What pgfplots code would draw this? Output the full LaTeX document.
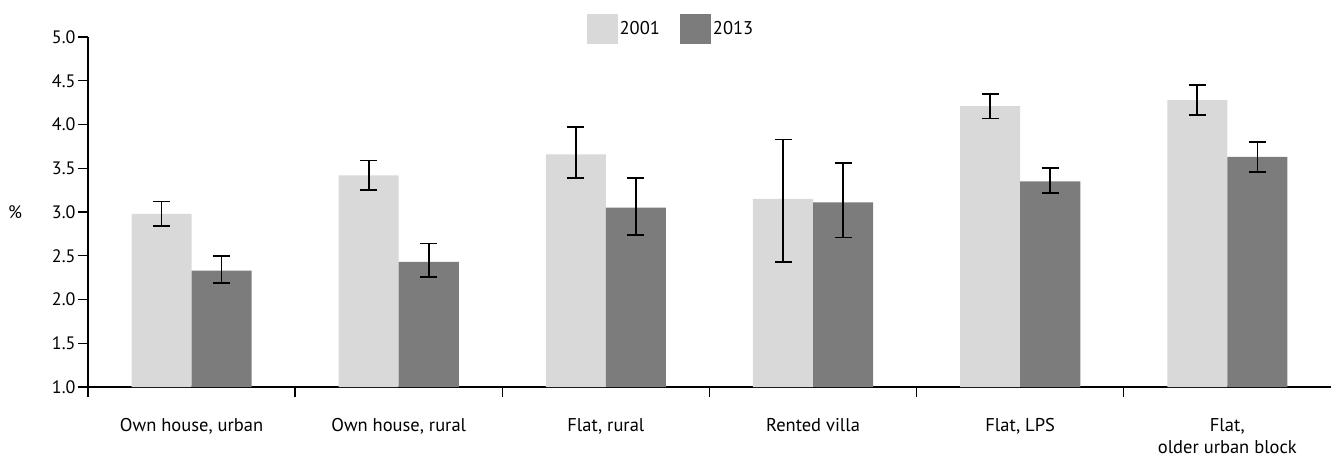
\documentclass[border=0pt]{standalone}
\usepackage{pgfplots}
\pgfplotsset{compat=1.18}
\usepackage{pgfplotstable}
\usepackage{fontspec}
\setmainfont{PT Sans}
\definecolor{cLight}{HTML}{D9D9D9}
\definecolor{cDark}{HTML}{7C7C7C}

\pgfplotstableread{
x y ep em
0 2.98 0.14 0.14
1 3.42 0.17 0.17
2 3.66 0.315 0.27
3 3.15 0.68 0.72
4 4.21 0.14 0.14
5 4.28 0.175 0.17
}\tabA
\pgfplotstableread{
x y ep em
0 2.33 0.17 0.14
1 2.43 0.21 0.17
2 3.05 0.34 0.31
3 3.11 0.45 0.40
4 3.35 0.15 0.13
5 3.63 0.17 0.17
}\tabB

\begin{document}
\begin{tikzpicture}
\begin{axis}[
  scale only axis,
  width=1243pt, height=350pt,
  xmin=-0.5, xmax=5.5,
  ymin=1, ymax=5,
  axis x line=bottom, axis y line=left,
  axis line style={-, line width=1.4pt, black},
  tick style={line width=1.4pt, black},
  tick align=outside,
  ytick={1,1.5,2,2.5,3,3.5,4,4.5,5},
  major tick length=10pt,
  yticklabel style={/pgf/number format/fixed, /pgf/number format/fixed zerofill, /pgf/number format/precision=1, xshift=1pt},
  /pgf/number format/assume math mode=true,
  xtick={-0.5,0.5,1.5,2.5,3.5,4.5},
  xticklabels={},
  extra x ticks={0,1,2,3,4,5},
  extra x tick labels={{Own house, urban},{Own house, rural},{Flat, rural},{Rented villa},{Flat, LPS},{Flat,\\older urban block}},
  extra x tick style={major tick length=0pt, tick style={draw=none},
     xticklabel style={align=center, yshift=-28pt, font=\fontsize{18.5}{22}\selectfont}},
  tick label style={font=\fontsize{18}{21}\selectfont},
  ylabel={\%},
  ylabel style={rotate=-90, anchor=center, at={(axis description cs:-0.0587,0.5)}, font=\fontsize{18}{21}\selectfont},
  ybar, bar width=0.29,
  legend style={draw=none, at={(axis description cs:0.469,1.023)}, anchor=center, legend columns=2, font=\fontsize{18.5}{21}\selectfont, /tikz/every even column/.append style={column sep=18pt}},
  legend image code/.code={\fill[#1,draw=none] (0pt,-15pt) rectangle (31pt,15pt);},
  error bars/error bar style={line width=1.7pt, black},
  error bars/error mark options={rotate=90, mark size=8.5pt, line width=1.7pt, black},
]
\addplot[fill=cLight, draw=none, bar shift=-0.145,
  error bars/.cd, y dir=both, y explicit]
  table[x=x, y=y, y error plus=ep, y error minus=em]{\tabA};
\addlegendentry{2001}
\addplot[fill=cDark, draw=none, bar shift=0.145,
  error bars/.cd, y dir=both, y explicit]
  table[x=x, y=y, y error plus=ep, y error minus=em]{\tabB};
\addlegendentry{2013}
\end{axis}
\pgfresetboundingbox
\path[use as bounding box] (-88pt,-69pt) rectangle (1243pt,387pt);
\end{tikzpicture}
\end{document}
